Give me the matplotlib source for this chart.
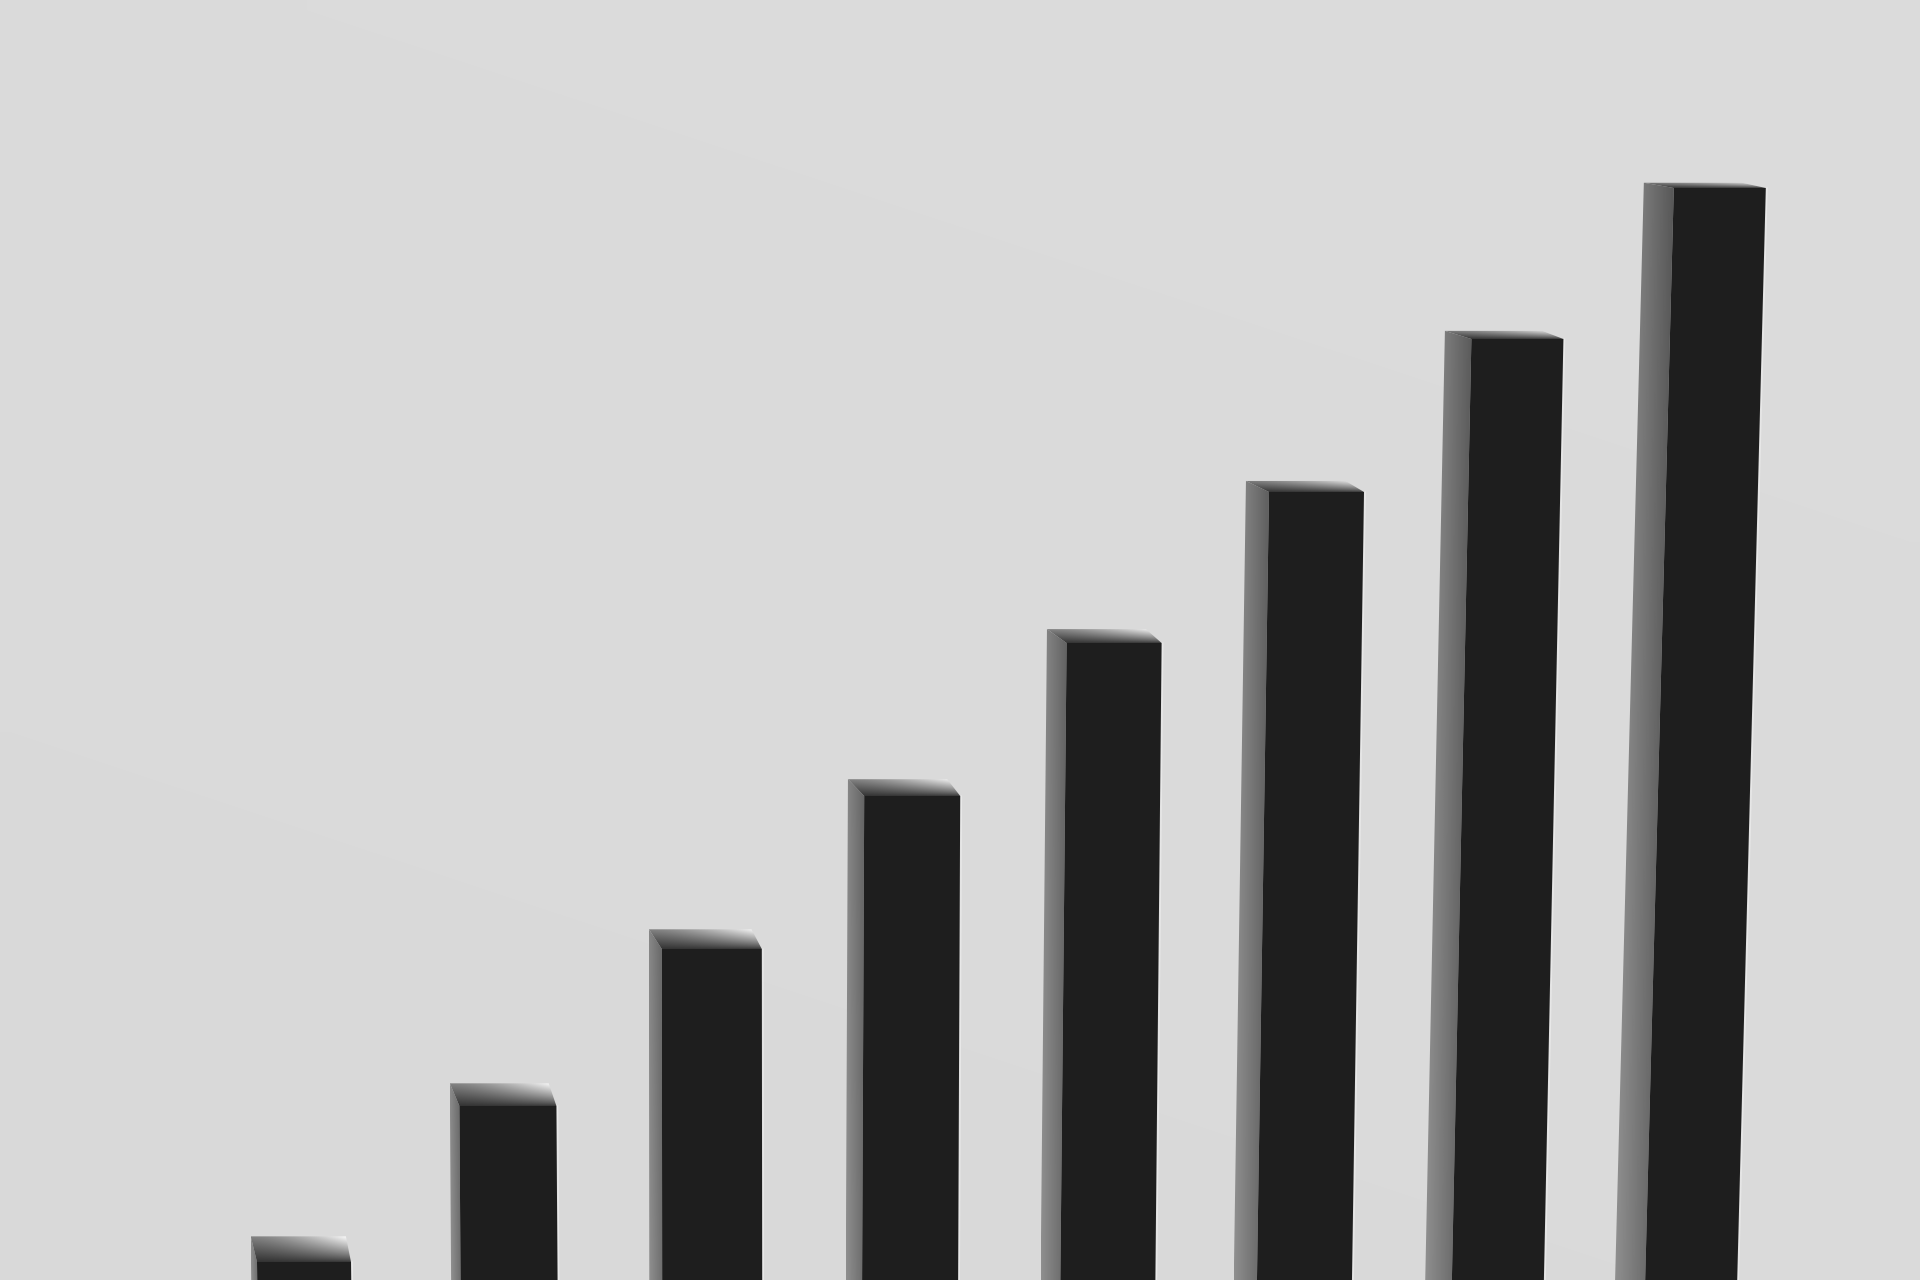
import matplotlib
matplotlib.use("Agg")
import matplotlib.pyplot as plt
from matplotlib.patches import Polygon
from matplotlib.transforms import Affine2D
import numpy as np

# bar heights (pixels above the bottom edge)
categories = ['1', '2', '3', '4', '5', '6', '7', '8']
values = [18, 174, 331, 484, 637, 788, 941, 1092]

W, H = 1920, 1280
fig = plt.figure(figsize=(19.2, 12.8), dpi=100)
ax = fig.add_axes([0, 0, 1, 1])

# background, light grey, nearly flat
yy, xx = np.mgrid[0:1:64j, 0:1:96j]
bg = 0.849 + 0.006 * yy + 0.003 * xx
ax.imshow(bg, extent=[0, W, 0, H], origin='lower', cmap='gray', vmin=0, vmax=1,
          interpolation='bilinear', zorder=0)


def shaded(poly, func, zorder):
    ax.add_patch(poly)
    xs, ys = poly.get_xy()[:, 0], poly.get_xy()[:, 1]
    x0, x1, y0, y1 = xs.min(), xs.max(), ys.min(), ys.max()
    gx, gy = np.meshgrid(np.linspace(x0, x1, 80), np.linspace(y0, y1, 200))
    im = ax.imshow(np.clip(func(gx, gy), 0, 1), extent=[x0, x1, y0, y1], origin='lower',
                   cmap='gray', vmin=0, vmax=1, interpolation='bilinear', zorder=zorder)
    im.set_clip_path(poly)


x = np.arange(len(categories))
top_left = 257 + 202.4 * x                      # front-left corner at the top of each bar
lean = 2.7e-5 * (top_left + 47 - 750)           # perspective lean, dx per unit height
left = top_left - lean * np.array(values)
width = np.array([94, 97, 100, 96, 95, 95, 92, 92])
bars = ax.bar(left, values, width=width, align='edge', color='#1e1e1e', zorder=3)

for i, b in enumerate(bars):
    fl = b.get_x()
    fr = fl + b.get_width()
    h = b.get_height()
    k = lean[i]
    b.set_transform(Affine2D().skew(np.arctan(k), 0) + ax.transData)
    side = 6 + 0.017 * (top_left[i] - 257)
    cap = 26 - 0.019 * h
    sl = fl - side
    ht = h + cap

    # side face
    sp = Polygon([(sl, 0), (sl + k * ht, ht), (fl + k * h, h), (fl, 0)],
                 closed=True, facecolor='none', edgecolor='none')
    shaded(sp, lambda gx, gy, sl=sl, side=side, k=k:
           0.33 + 0.13 * np.clip(1 - (gx - sl - k * gy) / side, 0, 1) + 0.1 * (1 - gy / H),
           2)

    # top cap
    br = fr - 0.8 * side
    cp = Polygon([(sl + k * ht, ht), (br + k * ht, ht), (fr + k * h, h), (fl + k * h, h)],
                 closed=True, facecolor='none', edgecolor='none')
    shaded(cp, lambda gx, gy, sl=sl, fr=fr, h=h, cap=cap, k=k:
           0.2 + 0.32 * np.clip((gy - h) / cap, 0, 1)
           + 0.5 * np.clip((gy - h) / cap, 0, 1) ** 0.7
           * np.clip((gx - k * gy - sl) / (fr - sl), 0, 1) ** 1.5,
           4)

    # thin light edge along the right of the front face
    ax.plot([fr + 1.2, fr + 1.2 + k * h], [0, h], color='#e8e8e8', lw=1.0, zorder=2.5)

ax.set_xlim(0, W)
ax.set_ylim(0, H)
ax.set_aspect('auto')
ax.axis('off')
fig.savefig('out.png', dpi=100)
